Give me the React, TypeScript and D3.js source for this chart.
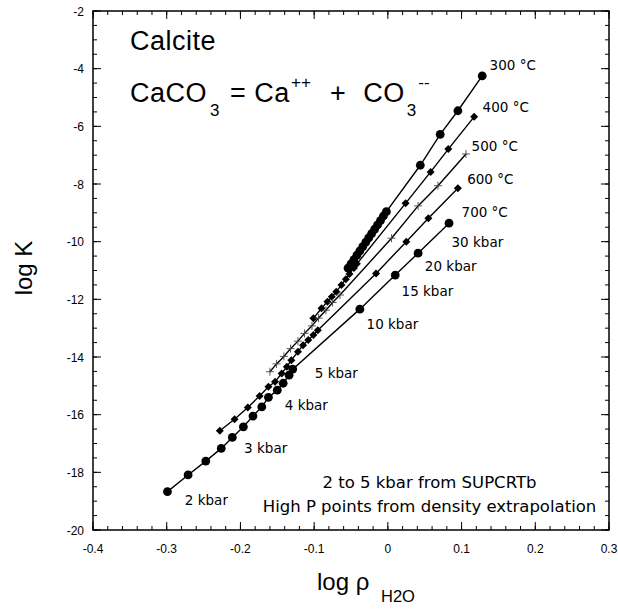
import React from 'react';
import * as d3 from 'd3';

// ---- data (log rho_H2O, log K) per isotherm; 2-5 kbar SUPCRT points then 10,15,20,30 kbar ----
const rho300 = [-0.054, -0.050, -0.046, -0.042, -0.038, -0.034, -0.030, -0.026, -0.022, -0.018, -0.014, -0.010, -0.006, -0.002, 0.044, 0.071, 0.095, 0.128];
const logK300 = [-10.92, -10.77, -10.62, -10.47, -10.32, -10.17, -10.02, -9.87, -9.72, -9.57, -9.42, -9.27, -9.11, -8.96, -7.35, -6.28, -5.46, -4.25];

const rho400 = [-0.101, -0.090, -0.082, -0.076, -0.070, -0.063, -0.057, -0.052, -0.046, -0.042, 0.024, 0.058, 0.082, 0.117];
const logK400 = [-12.66, -12.31, -12.08, -11.91, -11.74, -11.50, -11.30, -11.12, -10.91, -10.77, -8.67, -7.58, -6.79, -5.67];

const rho500 = [-0.160, -0.151, -0.141, -0.132, -0.122, -0.113, -0.103, -0.094, -0.084, -0.075, -0.065, 0.005, 0.041, 0.068, 0.106];
const logK500 = [-14.51, -14.24, -13.98, -13.71, -13.45, -13.18, -12.92, -12.65, -12.38, -12.11, -11.85, -9.88, -8.76, -8.06, -6.96];

const rho600 = [-0.228, -0.208, -0.190, -0.174, -0.162, -0.153, -0.144, -0.137, -0.131, -0.122, -0.115, -0.108, -0.101, -0.095, -0.016, 0.025, 0.055, 0.095];
const logK600 = [-16.56, -16.16, -15.75, -15.35, -15.03, -14.86, -14.57, -14.34, -14.11, -13.82, -13.59, -13.41, -13.24, -13.07, -11.10, -10.00, -9.19, -8.15];

const rho700 = [-0.299, -0.271, -0.247, -0.226, -0.211, -0.196, -0.183, -0.171, -0.162, -0.150, -0.142, -0.134, -0.129, -0.038, 0.010, 0.041, 0.083];
const logK700 = [-18.67, -18.09, -17.61, -17.17, -16.79, -16.42, -16.05, -15.73, -15.40, -15.15, -14.91, -14.63, -14.42, -12.34, -11.16, -10.40, -9.36];

const isothermLabels = ['300 °C', '400 °C', '500 °C', '600 °C', '700 °C'];
const isothermLabelRho = [0.138, 0.1285, 0.1136, 0.1076, 0.100];
const isothermLabelK = [-4.06, -5.49, -6.85, -8.0, -9.13];

const pressureLabels = ['2 kbar', '3 kbar', '4 kbar', '5 kbar', '10 kbar', '15 kbar', '20 kbar', '30 kbar'];
const pressureLabelRho = [-0.2754, -0.195, -0.1398, -0.0991, -0.0289, 0.0186, 0.0502, 0.0864];
const pressureLabelK = [-19.15, -17.33, -15.84, -14.73, -13.03, -11.9, -11.0, -10.17];

const xTickValues = [-0.4, -0.3, -0.2, -0.1, 0, 0.1, 0.2, 0.3];
const xTickLabels = ['-0.4', '-0.3', '-0.2', '-0.1', '0', '0.1', '0.2', '0.3'];
const yTickValues = [-20, -18, -16, -14, -12, -10, -8, -6, -4, -2];
const yTickLabels = ['-20', '-18', '-16', '-14', '-12', '-10', '-8', '-6', '-4', '-2'];

// ---- layout ----
const W = 618, H = 613;
const L = 93, R = 609, T = 11, B = 530;
const SANS = '"Liberation Sans", Arial, Helvetica, sans-serif';
const HUM = '"DejaVu Sans", Verdana, sans-serif';

type Marker = 'circle' | 'diamond' | 'plus';

export default function App() {
  const x = d3.scaleLinear().domain([-0.4, 0.3]).range([L, R]);
  const y = d3.scaleLinear().domain([-20, -2]).range([B, T]);
  const line = d3.line<[number, number]>().x(d => x(d[0])).y(d => y(d[1]));

  const series: { rho: number[]; k: number[]; marker: Marker }[] = [
    { rho: rho300, k: logK300, marker: 'circle' },
    { rho: rho400, k: logK400, marker: 'diamond' },
    { rho: rho500, k: logK500, marker: 'plus' },
    { rho: rho600, k: logK600, marker: 'diamond' },
    { rho: rho700, k: logK700, marker: 'circle' },
  ];

  const xMinor = x.ticks(35);
  const yMinor = y.ticks(36);
  const majLen = 8, minLen = 4;

  const renderMarker = (m: Marker, cx: number, cy: number, key: string) => {
    if (m === 'circle') return <circle key={key} cx={cx} cy={cy} r={4.4} fill="#000" />;
    if (m === 'diamond') {
      const s = 4;
      return <path key={key} d={`M${cx},${cy - s}L${cx + s},${cy}L${cx},${cy + s}L${cx - s},${cy}Z`} fill="#000" />;
    }
    const s = 4;
    return <path key={key} d={`M${cx - s},${cy}H${cx + s}M${cx},${cy - s}V${cy + s}`} stroke="#444" strokeWidth={0.9} fill="none" />;
  };

  const yMid = 268;

  return (
    <svg width={W} height={H} style={{ position: 'absolute', left: 0, top: 0, background: '#fff' }}>
      <rect x={0} y={0} width={W} height={H} fill="#fff" />
      {/* ticks */}
      <g stroke="#000" strokeWidth={1}>
        {xMinor.map((v, i) => (
          <g key={'xm' + i}>
            <line x1={x(v)} x2={x(v)} y1={B} y2={B - minLen} />
            <line x1={x(v)} x2={x(v)} y1={T} y2={T + minLen} />
          </g>
        ))}
        {yMinor.map((v, i) => (
          <g key={'ym' + i}>
            <line x1={L} x2={L + minLen} y1={y(v)} y2={y(v)} />
            <line x1={R} x2={R - minLen} y1={y(v)} y2={y(v)} />
          </g>
        ))}
        {xTickValues.map((v, i) => (
          <g key={'xM' + i}>
            <line x1={x(v)} x2={x(v)} y1={B} y2={B - majLen} />
            <line x1={x(v)} x2={x(v)} y1={T} y2={T + majLen} />
          </g>
        ))}
        {yTickValues.map((v, i) => (
          <g key={'yM' + i}>
            <line x1={L} x2={L + majLen} y1={y(v)} y2={y(v)} />
            <line x1={R} x2={R - majLen} y1={y(v)} y2={y(v)} />
          </g>
        ))}
      </g>
      <rect x={L} y={T} width={R - L} height={B - T} fill="none" stroke="#000" strokeWidth={1.5} />

      {/* tick labels */}
      <g fontFamily={SANS} fontSize={12} fill="#000">
        {xTickValues.map((v, i) => (
          <text key={'xl' + i} x={x(v)} y={B + 23} textAnchor="middle">{xTickLabels[i]}</text>
        ))}
        {yTickValues.map((v, i) => (
          <text key={'yl' + i} x={L - 9} y={y(v) + 4.5} textAnchor="end">{yTickLabels[i]}</text>
        ))}
      </g>

      {/* axis titles */}
      <text x={32} y={yMid} fontFamily={SANS} fontSize={24} textAnchor="middle"
        transform={`rotate(-90 32 ${yMid})`}>log K</text>
      <text x={317} y={590} fontFamily={SANS} fontSize={24}>log ρ</text>
      <text x={381} y={602} fontFamily={SANS} fontSize={16.5}>H2O</text>

      {/* lines */}
      <g fill="none" stroke="#000" strokeWidth={1.4}>
        {series.map((s, i) => (
          <path key={'l' + i} d={line(s.rho.map((r, j) => [r, s.k[j]] as [number, number])) || ''} />
        ))}
      </g>
      {/* markers */}
      <g>
        {series.map((s, i) => s.rho.map((r, j) => renderMarker(s.marker, x(r), y(s.k[j]), `m${i}-${j}`)))}
      </g>

      {/* title */}
      <g fontFamily={SANS} fill="#000">
        <text x={130} y={50} fontSize={27} letterSpacing={0.5}>Calcite</text>
        <text x={130} y={101.7} fontSize={27} letterSpacing={0.5}>CaCO</text>
        <text x={210} y={116} fontSize={17}>3</text>
        <text x={230} y={101.7} fontSize={27} letterSpacing={0.5}>= Ca</text>
        <text x={291} y={88} fontSize={17}>++</text>
        <text x={330} y={101.7} fontSize={27}>+</text>
        <text x={363.3} y={101.7} fontSize={27} letterSpacing={0.5}>CO</text>
        <text x={406.7} y={116} fontSize={17}>3</text>
        <text x={418.3} y={88} fontSize={17}>--</text>
      </g>

      {/* isotherm and pressure labels */}
      <g fontFamily={HUM} fontSize={13.5} fill="#000">
        {isothermLabels.map((t, i) => (
          <text key={'it' + i} x={x(isothermLabelRho[i])} y={y(isothermLabelK[i])}>{t}</text>
        ))}
        {pressureLabels.map((t, i) => (
          <text key={'pl' + i} x={x(pressureLabelRho[i])} y={y(pressureLabelK[i])}>{t}</text>
        ))}
      </g>

      {/* notes */}
      <g fontFamily={HUM} fontSize={16.5} fill="#000" textAnchor="middle">
        <text x={429.5} y={488}>2 to 5 kbar from SUPCRTb</text>
        <text x={429.5} y={511.5}>High P points from density extrapolation</text>
      </g>
    </svg>
  );
}
